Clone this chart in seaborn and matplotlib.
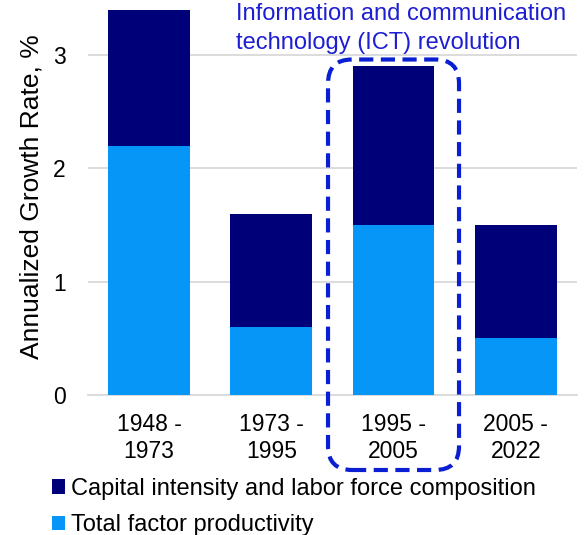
import matplotlib
matplotlib.use("Agg")
import matplotlib.pyplot as plt
import numpy as np
import pandas as pd
import seaborn as sns
from matplotlib.patches import FancyBboxPatch, Patch
from matplotlib.transforms import IdentityTransform

PERIODS = ["1948 -\n1973", "1973 -\n1995", "1995 -\n2005", "2005 -\n2022"]
TFP = [2.2, 0.6, 1.5, 0.5]
CAPITAL_LABOR = [1.2, 1.0, 1.4, 1.0]
SERIES_NAMES = ["Capital intensity and labor force composition", "Total factor productivity"]
Y_TICKS = [0, 1, 2, 3]
HIGHLIGHT = 2
HIGHLIGHT_TEXT = "Information and communication\ntechnology (ICT) revolution"

NAVY = "#000078"
LIGHT = "#0596F7"
BOX_BLUE = "#0A1ED2"

sns.set_theme(style="white")
plt.rcParams["font.family"] = ["Liberation Sans", "DejaVu Sans"]
plt.rcParams["text.color"] = "black"
plt.rcParams["axes.labelcolor"] = "black"

data = pd.DataFrame({"period": PERIODS, "tfp": TFP, "capital": CAPITAL_LABOR})
data["total"] = data["tfp"] + data["capital"]

fig = plt.figure(figsize=(5.88, 5.35), dpi=100)
ax = fig.add_axes([0.1497, 0.2617, 0.8313, 0.7415])

sns.barplot(data=data, x="period", y="total", color=NAVY, width=0.67,
            saturation=1, linewidth=0, ax=ax, zorder=3)
sns.barplot(data=data, x="period", y="tfp", color=LIGHT, width=0.67,
            saturation=1, linewidth=0, ax=ax, zorder=3)

ax.set_xlim(-0.5, len(PERIODS) - 0.5)
ax.set_ylim(0, 3.5)
ax.set_yticks(Y_TICKS)
ax.yaxis.grid(True, color="#D9D9D9", linewidth=1.3, zorder=0)
ax.set_axisbelow(True)
for side in ["top", "right", "left"]:
    ax.spines[side].set_visible(False)
ax.spines["bottom"].set_color("#D9D9D9")
ax.spines["bottom"].set_linewidth(1.3)
ax.tick_params(axis="both", length=0, labelsize=16.5, colors="black")
ax.tick_params(axis="x", pad=13)
ax.tick_params(axis="y", pad=16)
for label in ax.get_xticklabels():
    label.set_linespacing(1.2)
ax.set_xlabel("")
ax.set_ylabel("Annualized Growth Rate, %", fontsize=19)
ax.yaxis.label.set_va("center")
ax.yaxis.set_label_coords(-0.1166, 0.5)

# dashed rounded box around the ICT period
fig.canvas.draw()
x0, y_top = ax.transData.transform((HIGHLIGHT - 0.536, 2.96))
x1, _ = ax.transData.transform((HIGHLIGHT + 0.536, 0))
y_bottom = 535 - 470
box = FancyBboxPatch((x0, y_bottom), x1 - x0, y_top - y_bottom,
                     boxstyle="round,pad=0,rounding_size=24",
                     transform=IdentityTransform(), fill=False,
                     edgecolor=BOX_BLUE, linewidth=3.0,
                     linestyle=(0, (3.4, 1.8)), clip_on=False, zorder=5)
fig.add_artist(box)

fig.text(236 / 588, 1 - 3 / 535, HIGHLIGHT_TEXT, ha="left", va="top",
         fontsize=17, color="#1E1ED2", linespacing=1.4, multialignment="left")

handles = [Patch(facecolor=NAVY, edgecolor="none"), Patch(facecolor=LIGHT, edgecolor="none")]
fig.legend(handles, SERIES_NAMES, loc="upper left", bbox_to_anchor=(0.0884, 0.107),
           frameon=False, fontsize=17, handlelength=0.55, handleheight=0.55,
           handletextpad=0.25, labelspacing=0.62, borderaxespad=0, borderpad=0)

fig.savefig("out.png", dpi=100)
